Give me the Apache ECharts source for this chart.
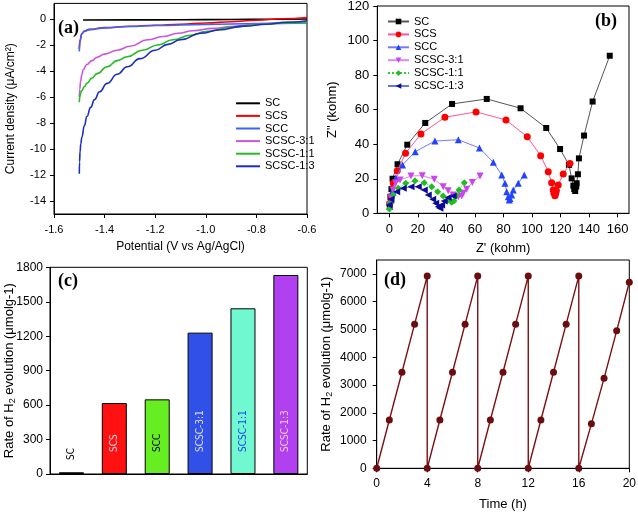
<!DOCTYPE html>
<html><head><meta charset="utf-8">
<script src="https://cdn.jsdelivr.net/npm/echarts@6/dist/echarts.min.js"></script>
<style>html,body{margin:0;padding:0;background:#fff}#c{width:638px;height:514px}</style>
</head><body><div id="c"></div>
<script>
// ---------- Panel (a): LSV curves [potential V, current density µA/cm2]
const seriesNames = ['SC','SCS','SCC','SCSC-3:1','SCSC-1:1','SCSC-1:3'];
const lsvSC = [[-1.485,-0.08],[-1.3,-0.07],[-1.1,-0.06],[-0.9,-0.04],[-0.75,-0.02],[-0.6,0]];
const lsvSCS = [[-1.5,-2.3],[-1.497,-1.6],[-1.49,-1.12],[-1.48,-0.92],[-1.46,-0.8],[-1.4,-0.66],[-1.3,-0.56],[-1.2,-0.48],[-1.1,-0.4],[-1.0,-0.31],[-0.9,-0.21],[-0.8,-0.1],[-0.7,0.02],[-0.6,0.12]];
const lsvSCC = [[-1.5,-2.5],[-1.497,-1.7],[-1.49,-1.15],[-1.48,-0.95],[-1.46,-0.82],[-1.4,-0.68],[-1.3,-0.58],[-1.2,-0.5],[-1.0,-0.42],[-0.8,-0.35],[-0.6,-0.3]];
const lsv31 = [[-1.5,-6.0],[-1.498,-5.4],[-1.495,-4.8],[-1.49,-4.3],[-1.485,-3.9],[-1.47,-3.5],[-1.45,-3.2],[-1.43,-2.95],[-1.4,-2.7],[-1.35,-2.4],[-1.3,-2.1],[-1.23,-1.6],[-1.17,-1.35],[-1.11,-1.1],[-1.05,-0.9],[-0.97,-0.72],[-0.9,-0.58],[-0.8,-0.4],[-0.7,-0.28],[-0.6,-0.2]];
const lsv11 = [[-1.5,-6.4],[-1.498,-6.0],[-1.495,-5.7],[-1.49,-5.5],[-1.48,-5.2],[-1.47,-4.95],[-1.45,-4.55],[-1.43,-4.2],[-1.39,-3.67],[-1.35,-3.2],[-1.31,-2.9],[-1.25,-2.4],[-1.19,-2.0],[-1.13,-1.6],[-1.06,-1.25],[-1.0,-0.97],[-0.9,-0.65],[-0.8,-0.42],[-0.7,-0.32],[-0.6,-0.26]];
const lsv13 = [[-1.5,-11.9],[-1.499,-11.0],[-1.497,-10.2],[-1.494,-9.6],[-1.49,-9.1],[-1.48,-8.2],[-1.47,-7.5],[-1.455,-6.8],[-1.44,-6.2],[-1.42,-5.6],[-1.39,-4.95],[-1.35,-4.25],[-1.31,-3.67],[-1.26,-3.05],[-1.2,-2.4],[-1.15,-1.95],[-1.1,-1.6],[-1.02,-1.1],[-0.95,-0.85],[-0.85,-0.55],[-0.76,-0.4],[-0.68,-0.25],[-0.6,-0.13]];
const yTicksA = [-14,-12,-10,-8,-6,-4,-2,0];

// ---------- Panel (b): Nyquist [Z' kohm, Z'' kohm]
const eisSC = [[0.3,5],[0.8,9.6],[1.5,14],[2.3,20],[5.8,28.4],[12.6,39.7],[25.2,52.3],[44,63.3],[68.3,66.2],[92,60.8],[110,49.4],[119.7,37.2],[125.9,28],[127.8,20.2],[129,16],[129.6,14],[130.3,12.9],[131,15.5],[131.3,17.4],[132.2,22.6],[132.9,31.8],[136.5,45],[142.5,64.7],[154.5,91.2]];
const eisSCS = [[0.4,5.8],[1.4,9.6],[2.8,17.4],[5.6,24.7],[11.4,34.7],[22.2,45.9],[39,55.6],[60.8,58.7],[81.8,54],[96.7,44.3],[106.1,33.3],[111.4,24.1],[113.8,17.7],[114.9,13.5],[115.4,11.6],[116.1,10.2],[116.6,11.5],[117.1,13],[118.4,16.4],[121.9,22.7],[126.6,28.9]];
const eisSCC = [[0.4,3.9],[1.2,7.7],[2.3,13.1],[4.7,20.3],[9.3,28],[18.2,35.7],[32,41.8],[48.4,42.6],[63.2,37.8],[72.9,29.5],[78.8,22.2],[81.1,17.4],[82.3,12.5],[83.4,9.6],[84.1,7.7],[84.6,8.5],[85.8,10.6],[86.9,13.5],[90.4,17.4],[94.6,22.2]];
const eis31 = [[0.3,5],[1.2,9],[2.5,13.5],[4.5,17.5],[7.5,19.3],[15.2,21.6],[23.1,21.8],[31.5,19.7],[37.8,15.4],[41.3,13.1],[44.8,10.6],[48.4,9.6],[50.7,10],[51.9,11.6],[54.2,13.9],[58.2,17.9],[63.6,21.6]];
const eis11 = [[0,2.5],[0.5,5.8],[2.8,10.6],[6.3,14.5],[11.5,17.4],[18,18.9],[24.5,17.7],[29.7,15.4],[33.9,12.5],[37.8,10],[41.3,7.7],[43.7,6.4],[45.3,7.1],[46.8,10.2],[48.8,13.5],[52.6,17.7]];
const eis13 = [[-0.2,4.8],[1.2,8.1],[5.2,12.5],[9.8,14.5],[15.2,15.4],[20.3,15.4],[24.5,13.5],[27.3,10.6],[30.4,8.1],[32.5,5.8],[34.3,3.8],[35.5,2.9],[36.7,4.8],[38.5,7.1],[41.3,9.2],[44.8,10]];
const xTicksB = [0,20,40,60,80,100,120,140,160];

// ---------- Panel (c): H2 evolution rate bars
const barCategories = ['SC','SCS','SCC','SCSC-3:1','SCSC-1:1','SCSC-1:3'];
const barValues = [15,618,650,1231,1443,1733];

// ---------- Panel (d): cycling
const cycleTimes = [0,1,2,3,4,4,5,6,7,8,8,9,10,11,12,12,13,14,15,16,16,17,18,19,20];
const cycleValues = [0,1740,3460,5190,6920,0,1740,3460,5190,6920,0,1740,3460,5190,6920,0,1740,3460,5190,6920,0,1600,3240,4950,6700];
const yTicksD = [0,1000,2000,3000,4000,5000,6000,7000];

const FF = '"Liberation Sans", Arial, sans-serif';
const chart = echarts.init(document.getElementById('c'), null, {renderer:'canvas'});

function valAxis(o) {
  const base = {
    type:'value', splitLine:{show:false},
    axisLine:{show:true, onZero:false, lineStyle:{color:'#000', width:1}},
    axisTick:{show:true, inside:false, length:4, lineStyle:{color:'#000'}},
    axisLabel:{color:'#000', fontFamily:FF, fontSize:12, margin:7, formatter: v => String(v)},
    nameLocation:'middle', nameMoveOverlap:false,
    nameTextStyle:{color:'#000', fontFamily:FF, fontSize:12}
  };
  const r = Object.assign({}, base, o);
  if (o.axisLabel) r.axisLabel = Object.assign({}, base.axisLabel, o.axisLabel);
  if (o.axisTick) r.axisTick = Object.assign({}, base.axisTick, o.axisTick);
  if (o.nameTextStyle) r.nameTextStyle = Object.assign({}, base.nameTextStyle, o.nameTextStyle);
  return r;
}

const colA = ['#000000','#ff0000','#3366ff','#cc55dd','#22bb22','#1a2fbf'];
const lsvData = [lsvSC, lsvSCS, lsvSCC, lsv31, lsv11, lsv13];
const eisData = [eisSC, eisSCS, eisSCC, eis31, eis11, eis13];
const eisMarker = ['rect','circle','triangle','triangle','diamond','triangle'];
const eisRot = [0,0,0,180,0,90];
const eisSize = [6,7,7,7,7,7];
const eisMarkColor = ['#000000','#ff0000','#2244ff','#cc44ee','#22bb22','#0a0a99'];
const eisLineColor = ['#555555','#ff5599','#7777ff','#dd88ee','#33cc33','#6677ee'];

const series = [];
seriesNames.forEach((n,i) => {
  series.push({type:'line', name:n, xAxisIndex:0, yAxisIndex:0, data:lsvData[i],
    symbol:'none', smooth:true, smoothMonotone:'x',
    lineStyle:{color:colA[i], width:1.6}, itemStyle:{color:colA[i]}, z:2+i});
});
seriesNames.forEach((n,i) => {
  series.push({type:'line', name:'b|'+n, xAxisIndex:1, yAxisIndex:1, data:eisData[i],
    symbol:eisMarker[i], symbolRotate:eisRot[i], symbolSize:eisSize[i], showSymbol:true,
    lineStyle:{color:eisLineColor[i], width:1, type: i===4 ? 'dotted' : 'solid'},
    itemStyle:{color:eisMarkColor[i]}, z:2+i});
});
const barColors = ['#111111','#ff1111','#66ee22','#3050e8','#70f8d0','#b040f0'];
const barLabelColors = ['#000000','#ffd6e6','#000000','#dde0f0','#2244ee','#f4c8ec'];
series.push({type:'bar', xAxisIndex:2, yAxisIndex:2, barWidth:25,
  data: barValues.map((v,i) => ({value:v,
    itemStyle:{color:barColors[i], borderColor:'#000', borderWidth:1},
    label:{show:true, formatter:barCategories[i], position:'insideBottom', rotate:90,
      align:'left', verticalAlign:'middle', distance: i===0 ? 14 : 22,
      fontSize:10, fontFamily:'"Liberation Sans Narrow", "DejaVu Sans Condensed", "Liberation Sans", sans-serif', color:barLabelColors[i]}}))
});
series.push({type:'line', xAxisIndex:3, yAxisIndex:3,
  data: cycleTimes.map((t,i) => [t, cycleValues[i]]),
  symbol:'circle', symbolSize:7, showSymbol:true,
  lineStyle:{color:'#7b1113', width:1.4}, itemStyle:{color:'#6b0d10'}});

const rateName = 'Rate of H{s|2} evolution (μmolg-1)';
const rateStyle = {fontSize:13, lineHeight:15, rich:{s:{fontSize:9, lineHeight:9, verticalAlign:'bottom', fontFamily:FF, color:'#000'}}};

const option = {
  backgroundColor:'#fff',
  animation:false,
  grid:[
    {left:54, top:3.4, width:253, height:210.6, show:true, borderColor:'#000', borderWidth:1, outerBoundsMode:'none'},
    {left:377.3, top:6, width:251.7, height:207.3, show:true, borderColor:'#000', borderWidth:1, outerBoundsMode:'none'},
    {left:50, top:267.3, width:257.3, height:206.7, show:true, borderColor:'#000', borderWidth:1, outerBoundsMode:'none'},
    {left:376.7, top:260, width:252.6, height:208.3, show:true, borderColor:'#000', borderWidth:1, outerBoundsMode:'none'}
  ],
  xAxis:[
    valAxis({gridIndex:0, min:-1.6, max:-0.6, interval:0.2,
      axisLabel:{fontSize:11, margin:10, formatter:v=>v.toFixed(1)},
      name:'Potential (V vs Ag/AgCl)', nameGap:27}),
    valAxis({gridIndex:1, min:-8.4, max:168,
      axisLabel:{fontSize:13, margin:10, customValues:xTicksB},
      axisTick:{customValues:xTicksB},
      name:"Z' (kohm)", nameGap:29, nameTextStyle:{fontSize:13}}),
    {type:'category', gridIndex:2, data:barCategories,
      axisLine:{show:true, lineStyle:{color:'#000'}}, axisTick:{show:false}, axisLabel:{show:false}},
    valAxis({gridIndex:3, min:0, max:20, interval:4,
      axisLabel:{fontSize:12, margin:9},
      name:'Time (h)', nameGap:30, nameTextStyle:{fontSize:13}})
  ],
  yAxis:[
    valAxis({gridIndex:0, min:-15, max:1.2,
      axisLabel:{fontSize:11, margin:8, customValues:yTicksA},
      axisTick:{customValues:yTicksA},
      name:'Current density (μA/cm²)', nameGap:37}),
    valAxis({gridIndex:1, min:0, max:120, interval:20,
      axisLabel:{fontSize:13, margin:8},
      name:'Z" (kohm)', nameGap:38, nameTextStyle:{fontSize:13}}),
    valAxis({gridIndex:2, min:0, max:1800, interval:300,
      axisLabel:{fontSize:12, margin:7},
      name:rateName, nameGap:33, nameTextStyle:rateStyle}),
    valAxis({gridIndex:3, min:0, max:7500,
      axisLabel:{fontSize:12, margin:10, customValues:yTicksD},
      axisTick:{customValues:yTicksD},
      name:rateName, nameGap:43, nameTextStyle:rateStyle})
  ],
  legend:[
    {data:seriesNames.map(n => ({name:n, icon:'rect'})), orient:'vertical', left:231, top:92.3,
      itemWidth:24, itemHeight:2, itemGap:0.6, selectedMode:false,
      textStyle:{fontFamily:FF, fontSize:11, color:'#000', lineHeight:12}},
    {data:seriesNames.map(n=>'b|'+n), orient:'vertical', left:382, top:10.5, itemWidth:21, itemHeight:7, itemGap:0.9,
      selectedMode:false, formatter:n=>n.slice(2),
      textStyle:{fontFamily:FF, fontSize:11, color:'#000', lineHeight:12}}
  ],
  graphic:[
    {type:'text', left:58, top:19, style:{text:'(a)', font:'bold 18px "Liberation Serif", serif', fill:'#000'}},
    {type:'text', left:595, top:12, style:{text:'(b)', font:'bold 18px "Liberation Serif", serif', fill:'#000'}},
    {type:'text', left:58, top:272, style:{text:'(c)', font:'bold 18px "Liberation Serif", serif', fill:'#000'}},
    {type:'text', left:384, top:271, style:{text:'(d)', font:'bold 18px "Liberation Serif", serif', fill:'#000'}}
  ],
  series: series
};
chart.setOption(option);
</script>
</body></html>
